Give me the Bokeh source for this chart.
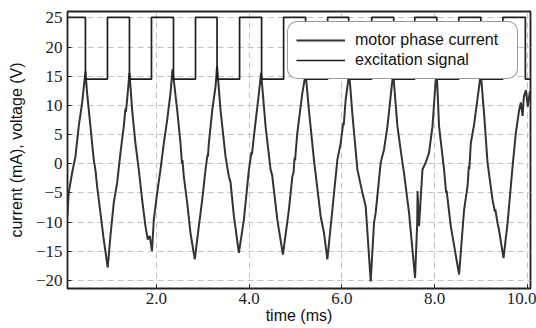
from bokeh.plotting import figure
from bokeh.models import Range1d, FixedTicker, CustomJSTickFormatter, Legend, LegendItem
from bokeh.embed import file_html
from bokeh.resources import INLINE

# motor phase current (mA) vs time (ms)
current_t = [
    0.078, 0.106, 0.179, 0.251, 0.322, 0.395, 0.467,
    0.503, 0.575, 0.646, 0.690, 0.700, 0.719, 0.790, 0.862, 0.948,
    1.006, 1.078, 1.151, 1.222, 1.294, 1.330, 1.340, 1.367, 1.417,
    1.475, 1.546, 1.618, 1.691, 1.762, 1.812, 1.855, 1.903,
    1.942, 2.015, 2.086, 2.158, 2.231, 2.302, 2.346,
    2.447, 2.518, 2.550, 2.560, 2.590, 2.663, 2.734, 2.793, 2.827,
    2.914, 2.987, 3.058, 3.100, 3.110, 3.130, 3.203, 3.274, 3.307,
    3.382, 3.490, 3.562, 3.598, 3.670, 3.778,
    3.886, 3.994, 4.050, 4.060, 4.102, 4.210, 4.257,
    4.354, 4.462, 4.497, 4.607, 4.728,
    4.857, 4.931, 4.957, 4.980, 4.990, 5.039, 5.147, 5.218,
    5.289, 5.397, 5.542, 5.613, 5.687,
    5.795, 5.903, 5.974, 6.030, 6.040, 6.082, 6.158,
    6.227, 6.335, 6.443, 6.514, 6.622,
    6.693, 6.730, 6.838, 6.909, 6.983, 7.091, 7.108,
    7.199, 7.307, 7.341, 7.449, 7.579,
    7.626, 7.633, 7.665, 7.739, 7.810, 7.881, 7.955, 8.026, 8.048,
    8.097, 8.205, 8.250, 8.260, 8.350, 8.529,
    8.637, 8.711, 8.740, 8.750, 8.782, 8.853, 8.961, 8.998,
    9.069, 9.143, 9.251, 9.300, 9.310, 9.359, 9.387, 9.488,
    9.575, 9.683, 9.754, 9.825, 9.862, 9.899, 9.927, 9.970, 10.013, 10.056, 10.099,
]
current_ma = [
    -9.0, -5.0, -1.6, 1.2, 6.4, 10.4, 15.8,
    12.1, 6.4, 0.7, -1.5, -2.4, -3.9, -8.4, -13.0, -17.8,
    -12.4, -6.7, -3.3, 1.8, 6.4, 9.4, 8.9, 11.0, 15.6,
    9.2, 3.5, -1.0, -6.2, -10.7, -13.0, -12.4, -15.0,
    -9.6, -5.0, -1.0, 3.5, 7.5, 12.1, 16.2,
    9.2, 3.5, 0.0, 0.6, -2.2, -6.7, -11.9, -14.8, -16.4,
    -10.7, -6.2, -1.0, 1.5, 1.2, 3.5, 9.2, 13.2, 16.7,
    9.2, 1.2, -2.2, -3.2, -9.0, -15.3,
    -9.6, -1.0, 2.0, 1.6, 4.7, 12.1, 15.6,
    6.4, -1.0, -2.0, -9.6, -15.6,
    -7.9, -2.2, -1.5, 1.0, 0.6, 5.3, 12.1, 15.5,
    9.2, 0.7, -9.0, -11.8, -16.4,
    -7.9, 0.7, 3.5, 7.0, 6.6, 11.0, 15.5,
    8.5, -1.0, -5.0, -7.3, -20.2,
    -10.2, -8.4, 0.2, 2.4, 6.4, 14.4, 15.5,
    6.4, 0.2, -1.6, -8.4, -19.6,
    -10.0, -4.7, -10.7, -1.0, 0.2, 1.9, 6.4, 14.4, 15.5,
    6.4, -1.0, -5.0, -4.6, -10.7, -19.0,
    -7.9, -3.9, -0.4, -0.9, 3.5, 6.7, 13.2, 15.5,
    8.5, 0.2, -6.2, -8.2, -7.8, -10.2, -11.2, -16.2,
    -10.2, -0.5, 5.3, 9.2, 10.5, 8.2, 11.5, 12.6, 9.8, 12.4, 11.0,
]

# excitation signal (V): switching times (ms) and level after each switch
exc_t = [0.078, 0.467, 0.942, 1.417, 1.892, 2.367, 2.842, 3.307, 3.793, 4.268, 4.743,
         5.218, 5.693, 6.147, 6.644, 7.119, 7.572, 8.048, 8.523, 8.998, 9.473, 9.959, 10.10]
exc_v = [25.1, 14.5, 25.1, 14.5, 25.1, 14.5, 25.1, 14.5, 25.1, 14.5, 25.1,
         14.5, 25.1, 14.5, 25.1, 14.5, 25.1, 14.5, 25.1, 14.5, 25.1, 14.5, 14.5]

x_ticks = [2, 4, 6, 8, 10]
y_ticks = [-20, -15, -10, -5, 0, 5, 10, 15, 20, 25]

p = figure(width=536, height=328, output_backend="svg", toolbar_location=None,
           x_range=Range1d(0.08, 10.07), y_range=Range1d(-21.4, 26.1),
           min_border_left=67, min_border_right=6, min_border_top=11, min_border_bottom=40)
p.background_fill_color = "white"
p.border_fill_color = "white"
p.outline_line_color = "#222222"
p.outline_line_width = 1.8

r_cur = p.line(current_t, current_ma, line_color="#333333", line_width=2.0)
r_exc = p.step(exc_t, exc_v, mode="after", line_color="#1e1e1e", line_width=1.7)

for ax in (p.xaxis[0], p.yaxis[0]):
    ax.axis_line_color = None
    ax.major_tick_in = 4
    ax.major_tick_out = 0
    ax.minor_tick_in = 0
    ax.minor_tick_out = 0
    ax.major_tick_line_color = "#222222"
    ax.major_label_text_font = "Liberation Serif"
    ax.major_label_text_font_size = "17px"
    ax.major_label_text_color = "#222222"
    ax.axis_label_text_font = "Liberation Sans"
    ax.axis_label_text_font_size = "16px"
    ax.axis_label_text_font_style = "normal"
    ax.axis_label_text_color = "#111111"

p.xaxis.ticker = FixedTicker(ticks=x_ticks)
p.yaxis.ticker = FixedTicker(ticks=y_ticks)
p.xaxis.formatter = CustomJSTickFormatter(code="return tick.toFixed(1);")
p.yaxis.formatter = CustomJSTickFormatter(code="return tick < 0 ? '\\u2212' + (-tick) : '' + tick;")
p.xaxis.axis_label = "time (ms)"
p.yaxis.axis_label = "current (mA), voltage (V)"
p.xaxis.major_label_standoff = 4
p.xaxis.axis_label_standoff = 0
p.yaxis.major_label_standoff = 5
p.yaxis.axis_label_standoff = 8

for g in (p.xgrid[0], p.ygrid[0]):
    g.grid_line_color = "#c2c2c2"
    g.grid_line_dash = "6 4"
    g.grid_line_width = 1

legend = Legend(items=[LegendItem(label="motor phase current", renderers=[r_cur]),
                       LegendItem(label="excitation signal", renderers=[r_exc])],
                location=(220, 209))
legend.spacing = 0
legend.padding = 8
legend.margin = 0
legend.glyph_width = 49
legend.glyph_height = 20
legend.label_height = 20
legend.label_standoff = 10
legend.label_width = 154
legend.label_text_font = "Liberation Sans"
legend.label_text_font_size = "16px"
legend.label_text_color = "#111111"
legend.border_line_color = "#333333"
legend.border_line_width = 1
legend.background_fill_color = "white"
legend.background_fill_alpha = 1.0
if "border_radius" in Legend.properties():
    legend.border_radius = 10
p.add_layout(legend)

open("out.html", "w").write(file_html(p, INLINE))
